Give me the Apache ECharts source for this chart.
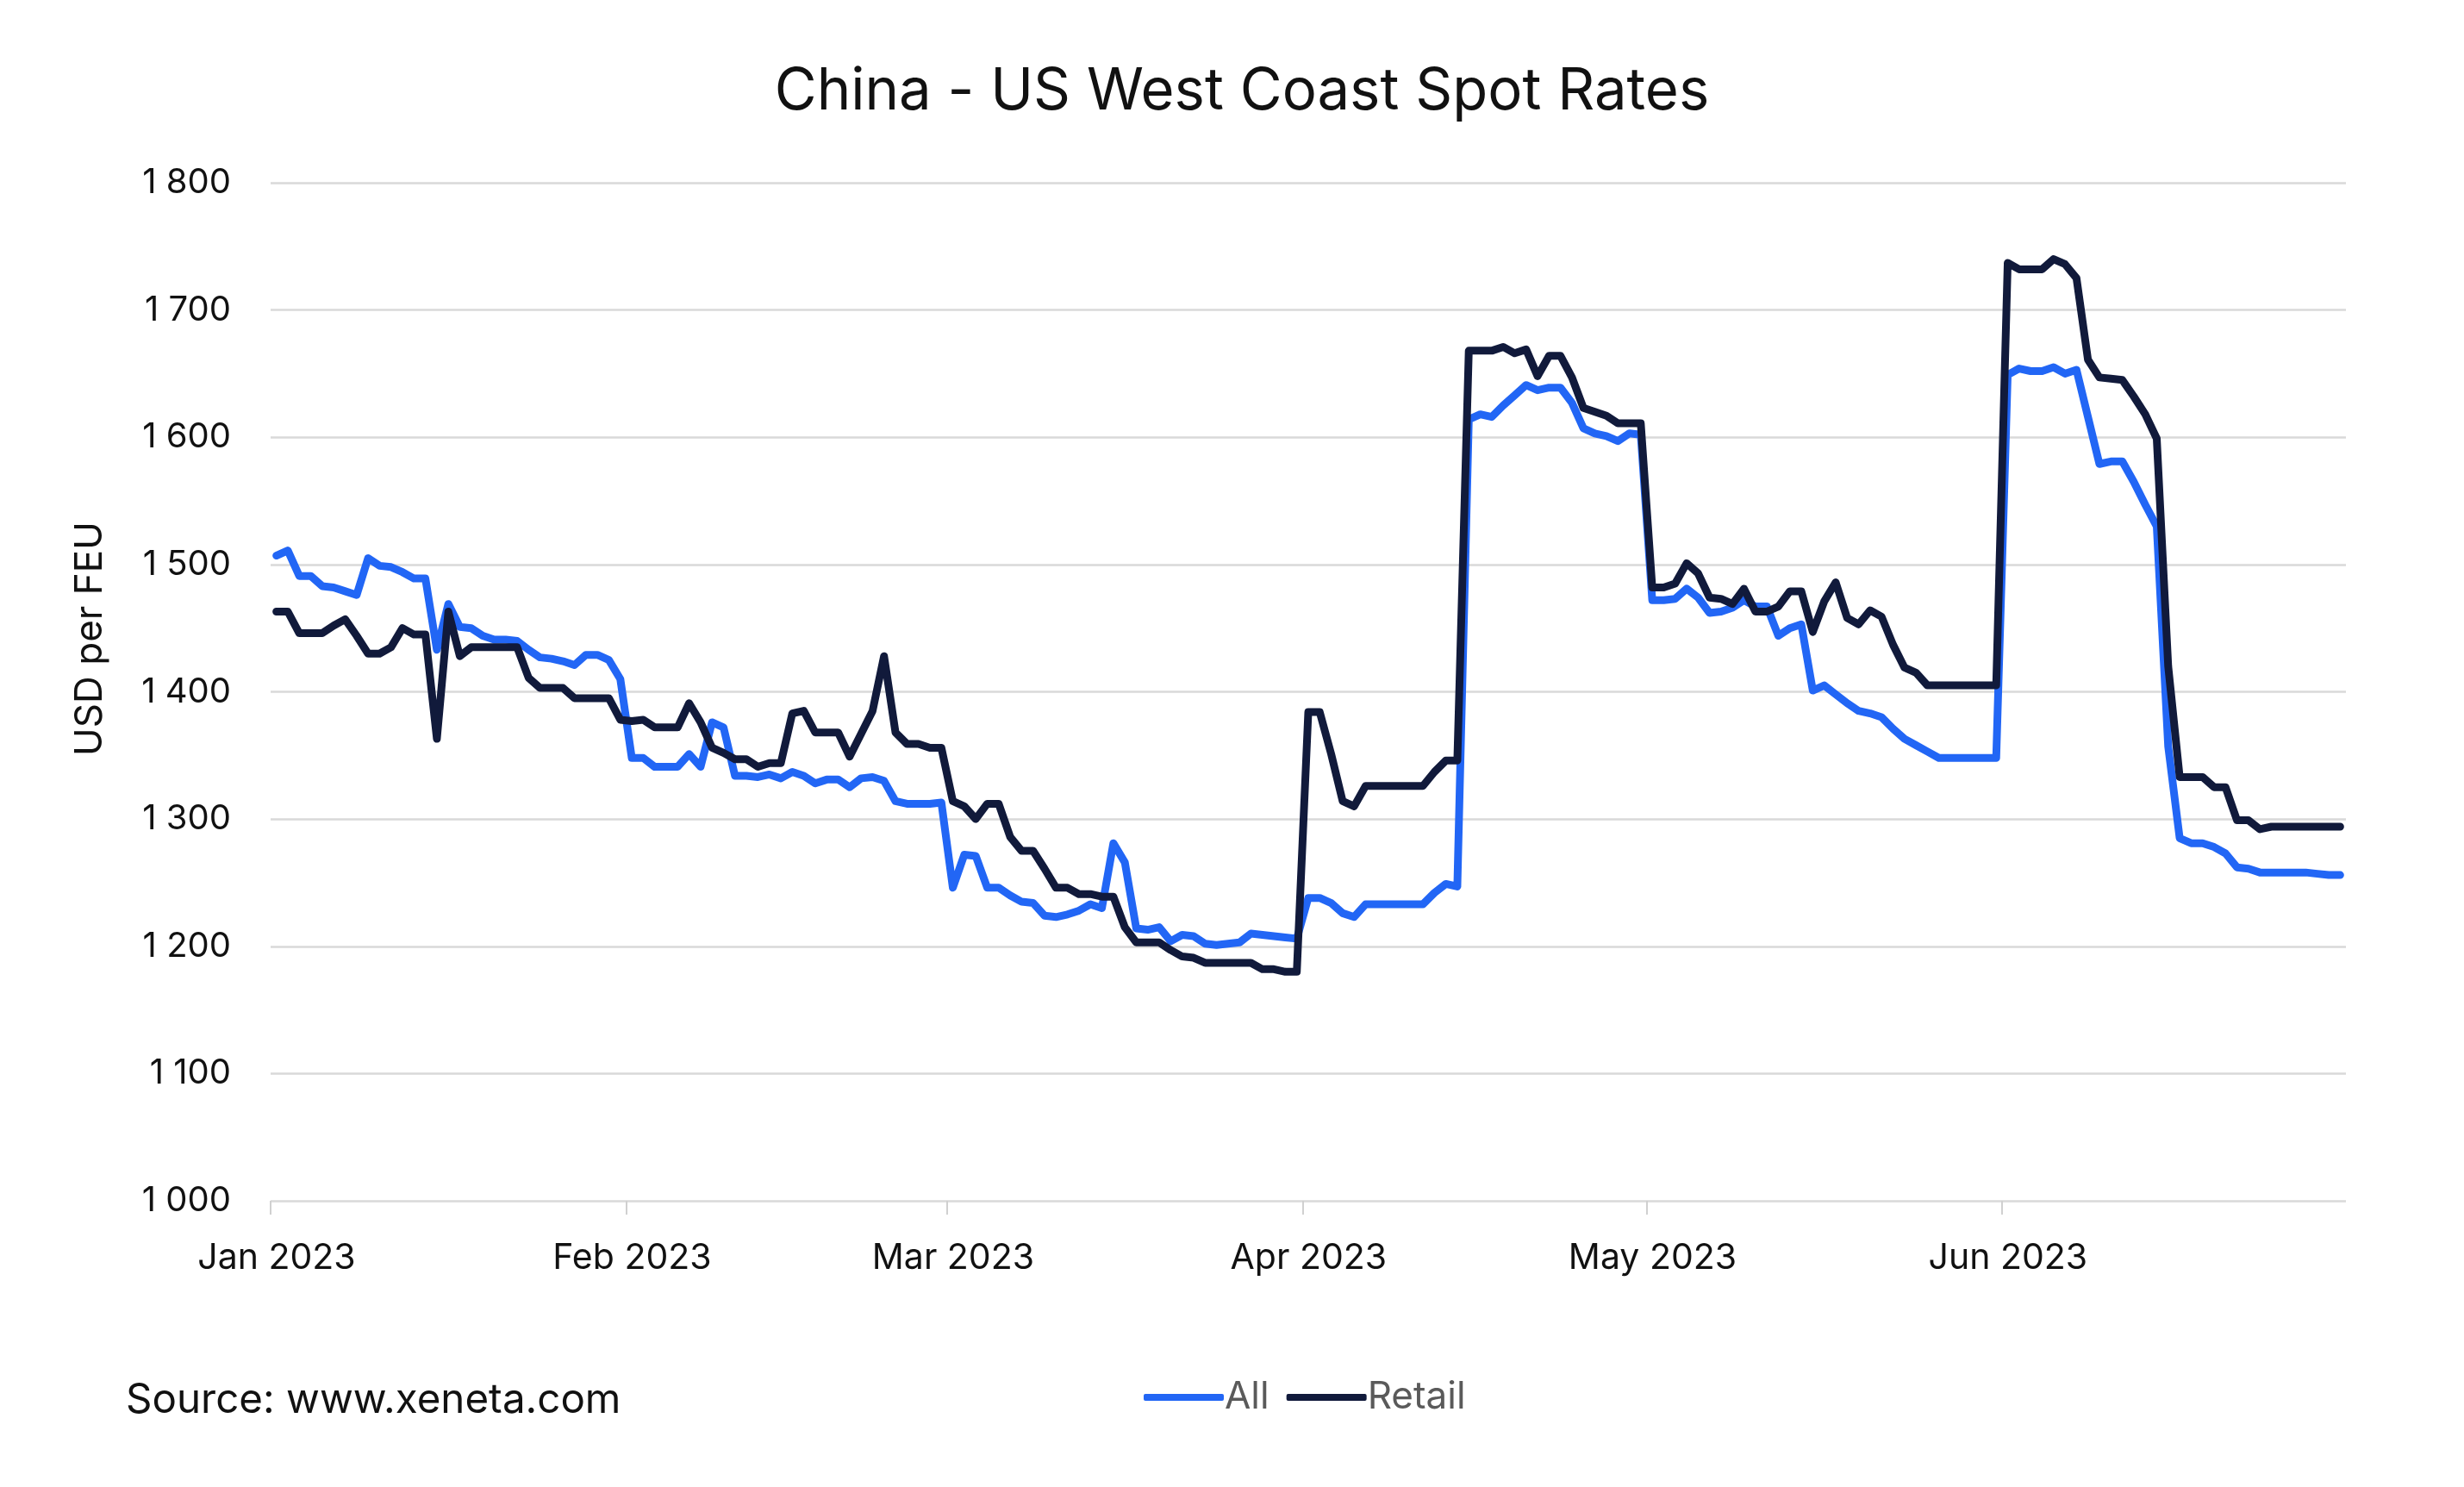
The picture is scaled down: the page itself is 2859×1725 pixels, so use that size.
<!DOCTYPE html>
<html>
<head>
<meta charset="utf-8">
<script src="https://cdn.jsdelivr.net/npm/echarts@6/dist/echarts.min.js"></script>
<style>
html,body{margin:0;padding:0;background:#fff;}
#chart{width:2859px;height:1725px;}
</style>
</head>
<body>
<div id="chart"></div>
<script>
// Daily values, 1 Jan 2023 .. 30 Jun 2023 (181 days)
var startDate = [2023, 0, 1];
var allRates = [
1507,1511,1491,1491,1483,1482,1479,1476,1505,1499,
1498,1494,1489,1489,1433,1469,1451,1450,1444,1441,
1441,1440,1433,1427,1426,1424,1421,1429,1429,1425,
1410,1348,1348,1341,1341,1341,1351,1341,1376,1372,
1334,1334,1333,1335,1332,1337,1334,1328,1331,1331,
1325,1332,1333,1330,1314,1312,1312,1312,1313,1246,
1272,1271,1246,1246,1240,1235,1234,1224,1223,1225,
1228,1233,1230,1281,1266,1214,1213,1215,1204,1209,
1208,1202,1201,1202,1203,1210,1209,1208,1207,1206,
1238,1238,1234,1226,1223,1233,1233,1233,1233,1233,
1233,1242,1249,1247,1614,1618,1616,1625,1633,1641,
1637,1639,1639,1627,1607,1603,1601,1597,1603,1602,
1472,1472,1473,1481,1474,1462,1463,1466,1472,1467,
1467,1444,1450,1453,1401,1405,1398,1391,1385,1383,
1380,1371,1363,1358,1353,1348,1348,1348,1348,1348,
1348,1649,1654,1652,1652,1655,1650,1653,1616,1579,
1581,1581,1565,1547,1530,1357,1285,1281,1281,1278,
1273,1262,1261,1258,1258,1258,1258,1258,1257,1256,
1256
];
var retailRates = [
1463,1463,1446,1446,1446,1452,1457,1444,1430,1430,
1435,1450,1445,1445,1363,1463,1428,1435,1435,1435,
1435,1435,1411,1403,1403,1403,1395,1395,1395,1395,
1378,1377,1378,1372,1372,1372,1391,1376,1356,1352,
1347,1347,1341,1344,1344,1383,1385,1368,1368,1368,
1349,1367,1385,1428,1368,1359,1359,1356,1356,1314,
1310,1300,1312,1312,1286,1275,1275,1261,1246,1246,
1241,1241,1239,1239,1215,1203,1203,1203,1197,1192,
1191,1187,1187,1187,1187,1187,1182,1182,1180,1180,
1384,1384,1351,1314,1310,1326,1326,1326,1326,1326,
1326,1337,1346,1346,1668,1668,1668,1671,1666,1669,
1648,1664,1664,1647,1623,1620,1617,1611,1611,1611,
1482,1482,1485,1501,1493,1474,1473,1469,1481,1463,
1463,1467,1479,1479,1447,1471,1486,1458,1453,1464,
1459,1437,1419,1415,1405,1405,1405,1405,1405,1405,
1405,1737,1732,1732,1732,1740,1736,1725,1661,1647,
1646,1645,1632,1618,1599,1420,1333,1333,1333,1325,
1325,1299,1299,1292,1294,1294,1294,1294,1294,1294,
1294
];
var seriesNames = ['All', 'Retail'];
var monthNames = ['Jan','Feb','Mar','Apr','May','Jun','Jul','Aug','Sep','Oct','Nov','Dec'];
var yTicks = [1000, 1100, 1200, 1300, 1400, 1500, 1600, 1700, 1800];

function dayTime(i) {
  return new Date(startDate[0], startDate[1], startDate[2] + i, 12, 0, 0).getTime();
}
var allData = allRates.map(function (v, i) { return [dayTime(i), v]; });
var retailData = retailRates.map(function (v, i) { return [dayTime(i), v]; });

var FONT = 'Inter, "Noto Sans", sans-serif';
var chart = echarts.init(document.getElementById('chart'), null, {renderer: 'canvas'});
chart.setOption({
  animation: false,
  backgroundColor: '#ffffff',
  graphic: [
    {
      type: 'text', x: 1441, y: 107,
      style: {text: 'China - US West Coast Spot Rates', fontFamily: FONT, fontSize: 67, fill: '#111111',
        textAlign: 'center', textVerticalAlign: 'middle'}
    },
    {
      type: 'text', x: 105, y: 741, rotation: Math.PI / 2,
      style: {text: 'USD per FEU', fontFamily: FONT, fontSize: 44, fill: '#111111',
        textAlign: 'center', textVerticalAlign: 'middle'}
    },
    {
      type: 'text', x: 146, y: 1625,
      style: {text: 'Source: www.xeneta.com', fontFamily: FONT, fontSize: 47.5, fill: '#111111',
        textAlign: 'left', textVerticalAlign: 'middle'}
    }
  ],
  legend: {
    data: seriesNames,
    left: 1322,
    top: 1594,
    icon: 'roundRect',
    itemWidth: 93,
    itemHeight: 8,
    itemGap: 20,
    textStyle: {fontFamily: FONT, fontSize: 44, color: '#5a5a5a', padding: [0, 0, 0, -4]}
  },
  grid: {left: 314, right: 137, top: 212, bottom: 332, containLabel: false},
  xAxis: {
    type: 'time',
    min: new Date(2023, 0, 1).getTime(),
    max: new Date(2023, 6, 1).getTime(),
    splitNumber: 6,
    axisLine: {show: false},
    axisTick: {show: true, length: 16, lineStyle: {color: '#d0d0d0', width: 2}},
    splitLine: {show: false},
    axisLabel: {
      fontFamily: FONT, fontSize: 41, color: '#111111', margin: 46,
      padding: [0, 0, 0, 14],
      showMaxLabel: false,
      formatter: function (val) {
        var d = new Date(val);
        if (d.getMonth() === 6) return '';
        return monthNames[d.getMonth()] + ' ' + d.getFullYear();
      }
    }
  },
  yAxis: {
    type: 'value',
    min: yTicks[0],
    max: yTicks[yTicks.length - 1],
    interval: 100,
    axisLine: {show: false},
    axisTick: {show: false},
    splitLine: {lineStyle: {color: '#d9d9d9', width: 2.5}},
    axisLabel: {
      fontFamily: FONT, fontSize: 40, color: '#111111', margin: 46,
      formatter: function (v) {
        var s = String(v);
        return s.length > 3 ? s.slice(0, s.length - 3) + ' ' + s.slice(-3) : s;
      }
    }
  },
  series: [
    {
      name: seriesNames[0], type: 'line', data: allData, showSymbol: false,
      lineStyle: {color: '#2266f5', width: 9, cap: 'round', join: 'round'},
      itemStyle: {color: '#2266f5'}
    },
    {
      name: seriesNames[1], type: 'line', data: retailData, showSymbol: false,
      lineStyle: {color: '#111a3b', width: 9, cap: 'round', join: 'round'},
      itemStyle: {color: '#111a3b'}
    }
  ]
});
</script>
</body>
</html>
